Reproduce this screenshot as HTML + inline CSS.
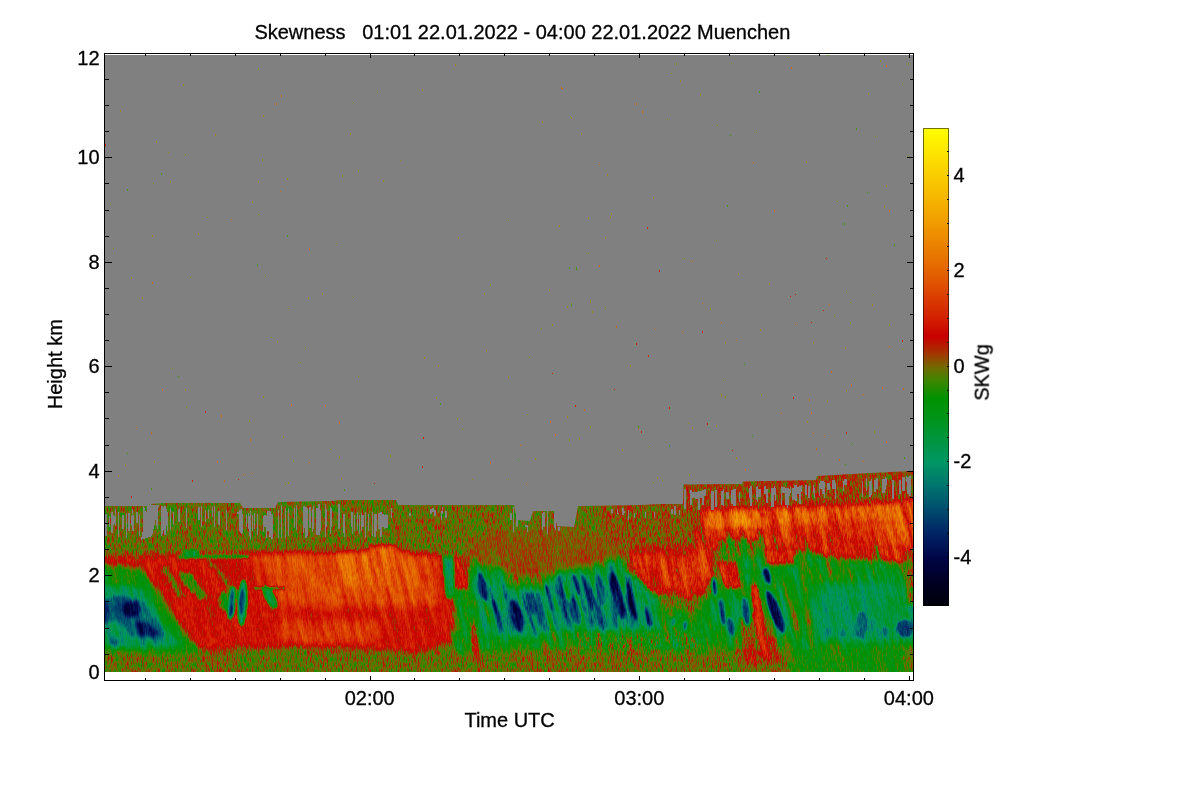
<!DOCTYPE html>
<html lang="en"><head><meta charset="utf-8"><title>Skewness 01:01 22.01.2022 - 04:00 22.01.2022 Muenchen</title>
<style>html,body{margin:0;padding:0;background:#fff}body{width:1200px;height:800px;overflow:hidden}svg{display:block}</style>
</head><body>
<svg width="1200" height="800" viewBox="0 0 1200 800">
<defs>
<linearGradient id="cb" x1="0" y1="0" x2="0" y2="1">
<stop offset="0.0000" stop-color="#ffff00"/>
<stop offset="0.1000" stop-color="#facd00"/>
<stop offset="0.2000" stop-color="#f09b00"/>
<stop offset="0.3000" stop-color="#e46400"/>
<stop offset="0.4000" stop-color="#d21e00"/>
<stop offset="0.4370" stop-color="#c80000"/>
<stop offset="0.4700" stop-color="#a53200"/>
<stop offset="0.5000" stop-color="#736900"/>
<stop offset="0.5300" stop-color="#3c8700"/>
<stop offset="0.5650" stop-color="#009100"/>
<stop offset="0.6000" stop-color="#009414"/>
<stop offset="0.7000" stop-color="#009664"/>
<stop offset="0.7500" stop-color="#00736e"/>
<stop offset="0.8000" stop-color="#004b6e"/>
<stop offset="0.8500" stop-color="#002364"/>
<stop offset="0.9000" stop-color="#000546"/>
<stop offset="0.9500" stop-color="#000023"/>
<stop offset="1.0000" stop-color="#00000a"/>
</linearGradient>
<clipPath id="dc"><rect x="105" y="55" width="808" height="617"/></clipPath>
</defs>
<rect width="1200" height="800" fill="#fff"/>
<rect x="105" y="55" width="808" height="617" fill="#808080"/>
<g clip-path="url(#dc)">
<defs>
<filter id="sb" color-interpolation-filters="sRGB" filterUnits="userSpaceOnUse" x="40" y="450" width="940" height="240"><feGaussianBlur stdDeviation="3"/></filter>
<filter id="mb" color-interpolation-filters="sRGB" filterUnits="userSpaceOnUse" x="40" y="450" width="940" height="240"><feGaussianBlur stdDeviation="1.8"/></filter>
<filter id="db" color-interpolation-filters="sRGB" filterUnits="userSpaceOnUse" x="40" y="450" width="940" height="240"><feGaussianBlur stdDeviation="1.0"/></filter>
<filter id="f1" color-interpolation-filters="sRGB" filterUnits="userSpaceOnUse" x="40" y="450" width="940" height="240">
<feColorMatrix in="SourceGraphic" type="matrix" values="0 0 1 0 0 0 0 1 0 0 0 0 1 0 0 0 0 0 0 1" result="si"/>
<feTurbulence type="fractalNoise" baseFrequency="0.16 0.022" numOctaves="2" seed="11" result="m"/>
<feColorMatrix in="m" type="matrix" values="1 0 0 0 0 1 0 0 0 0 1 0 0 0 0 0 0 0 0 1" result="mg"/>
<feComposite in="si" in2="mg" operator="arithmetic" k1="1" k2="-0.5" k3="0" k4="0.5" result="sn"/>
<feColorMatrix in="sn" type="matrix" values="1 0 0 0 0  0 0 0 0 0.5  0 0 0 0 0.5  0 0 0 0 1" result="sn2"/>
<feComposite in="SourceGraphic" in2="sn2" operator="arithmetic" k1="0" k2="1" k3="1" k4="-0.5"/>
</filter>
<filter id="f2" color-interpolation-filters="sRGB" filterUnits="userSpaceOnUse" x="40" y="450" width="940" height="240">
<feColorMatrix in="SourceGraphic" type="matrix" values="1 0 0 0 0 1 0 0 0 0 1 0 0 0 0 0 0 0 0 1" result="vi"/>
<feColorMatrix in="SourceGraphic" type="matrix" values="0 1 0 0 0 0 1 0 0 0 0 1 0 0 0 0 0 0 0 1" result="ai"/>
<feTurbulence type="fractalNoise" baseFrequency="0.8 0.16" numOctaves="2" seed="7" result="n"/>
<feColorMatrix in="n" type="matrix" values="1 0 0 0 0 1 0 0 0 0 1 0 0 0 0 0 0 0 0 1" result="ng"/>
<feComposite in="ai" in2="ng" operator="arithmetic" k1="1" k2="-0.5" k3="0" k4="0.5" result="an"/>
<feComposite in="vi" in2="an" operator="arithmetic" k1="0" k2="1" k3="0.6" k4="-0.3" result="vv"/>
<feComponentTransfer in="vv">
<feFuncR type="table" tableValues="0.000 0.000 0.000 0.000 0.000 0.000 0.000 0.000 0.000 0.000 0.000 0.000 0.000 0.000 0.000 0.000 0.000 0.000 0.000 0.000 0.000 0.000 0.000 0.000 0.000 0.000 0.000 0.000 0.000 0.000 0.000 0.000 0.000 0.000 0.000 0.016 0.102 0.184 0.271 0.361 0.451 0.533 0.616 0.678 0.729 0.780 0.796 0.812 0.824 0.831 0.839 0.851 0.859 0.867 0.878 0.886 0.894 0.902 0.906 0.910 0.918 0.925 0.929 0.933 0.941 0.945 0.949 0.957 0.961 0.965 0.973 0.976 0.980 0.984 0.984 0.988 0.988 0.992 0.996 0.996 1.000"/>
<feFuncG type="table" tableValues="0.000 0.000 0.000 0.000 0.000 0.004 0.008 0.016 0.020 0.047 0.078 0.110 0.137 0.176 0.216 0.255 0.294 0.333 0.373 0.412 0.451 0.486 0.518 0.553 0.588 0.588 0.588 0.584 0.584 0.584 0.580 0.580 0.580 0.576 0.573 0.565 0.553 0.537 0.510 0.463 0.412 0.322 0.231 0.153 0.078 0.004 0.039 0.078 0.118 0.153 0.188 0.220 0.255 0.290 0.322 0.357 0.392 0.420 0.447 0.475 0.502 0.525 0.553 0.580 0.608 0.631 0.659 0.682 0.706 0.729 0.753 0.780 0.804 0.827 0.855 0.878 0.902 0.925 0.949 0.976 1.000"/>
<feFuncB type="table" tableValues="0.039 0.063 0.086 0.114 0.137 0.173 0.204 0.239 0.275 0.306 0.333 0.361 0.392 0.400 0.412 0.424 0.431 0.431 0.431 0.431 0.431 0.424 0.412 0.400 0.392 0.353 0.314 0.275 0.235 0.196 0.157 0.118 0.078 0.051 0.024 0.000 0.000 0.000 0.000 0.000 0.000 0.000 0.000 0.000 0.000 0.000 0.000 0.000 0.000 0.000 0.000 0.000 0.000 0.000 0.000 0.000 0.000 0.000 0.000 0.000 0.000 0.000 0.000 0.000 0.000 0.000 0.000 0.000 0.000 0.000 0.000 0.000 0.000 0.000 0.000 0.000 0.000 0.000 0.000 0.000 0.000"/>
</feComponentTransfer><feGaussianBlur stdDeviation="0.45"/></filter>
<clipPath id="dp"><polygon points="105,506 148,506 150,504 166,503 240,503 243,508 275,508 278,502 330,501 340,500 396,500 398,505 514,505 517,520 530,521 533,511 554,511 557,526 574,527 578,506 640,505 660,504 683,504 683.5,484.5 742,484 743,481.5 816,480 817,476 870,473 913,471 913,672 105,672"/></clipPath>
</defs>
<g clip-path="url(#dp)">
<g filter="url(#f2)">
<g transform="translate(0 580) skewX(14) translate(0 -580)" filter="url(#f1)">
<g transform="translate(0 580) skewX(-14) translate(0 -580)">
<g filter="url(#sb)">
<polygon points="100,465 920,465 920,680 100,680" fill="rgb(125,92,15)"/>
<polygon points="600,500 705,500 705,552 600,552" fill="rgb(131,92,15)"/>
<polygon points="683,478 920,465 920,512 683,512" fill="rgb(133,92,15)"/>
<polygon points="790,640 920,640 920,680 790,680" fill="rgb(110,76,26)"/>
<polygon points="906,615 920,615 920,680 906,680" fill="rgb(128,92,26)"/>
<polygon points="100,557 245,553 262,552 400,552 445,556 455,600 455,640 420,652 300,646 180,650 100,650" fill="rgb(148,51,31)"/>
<polygon points="100,566 120,565 140,569 160,592 176,620 192,642 206,652 100,652" fill="rgb(107,51,38)"/>
<polygon points="240,554 400,552 438,556 440,600 436,606 300,608 272,603 252,582" fill="rgb(157,51,51)"/>
<polygon points="258,555 400,552 438,556 440,600 436,605 305,606 284,598 268,578" fill="rgb(166,51,51)"/>
<polygon points="284,556 400,553 425,560 420,590 330,592 290,585" fill="rgb(171,51,51)"/>
<polygon points="280,621 378,621 378,641 300,643 280,640" fill="rgb(162,51,51)"/>
<polygon points="455,589 482,589 482,652 455,652 452,640" fill="rgb(102,76,115)"/>
<polygon points="470,540 510,527 575,527 600,535 625,548 620,562 560,585 520,580 470,562" fill="rgb(130,46,15)"/>
<polygon points="469,560 520,576 560,583 600,562 640,552 650,580 666,610 705,612 705,650 580,648 456,650 456,594 469,594" fill="rgb(107,64,89)"/>
<polygon points="504,575 544,575 544,591 504,591" fill="rgb(110,64,76)"/>
<polygon points="473,564 495,570 505,588 545,588 553,574 600,566 640,558 655,600 661,628 600,630 560,630 530,637 490,637 474,620" fill="rgb(79,64,115)"/>
<polygon points="580,633 705,633 705,650 580,650" fill="rgb(110,153,76)"/>
<polygon points="625,552 705,548 705,594 690,597 660,592 640,580 625,572" fill="rgb(149,76,64)"/>
<polygon points="700,509 760,508 800,507 860,505 920,500 920,550 890,549 860,537 800,531 704,531" fill="rgb(159,76,64)"/>
<polygon points="690,531 800,530 860,537 905,550 920,556 920,562 880,560 840,558 800,550 740,549 700,549" fill="rgb(150,76,102)"/>
<polygon points="735,553 800,552 840,560 880,562 920,566 920,645 700,650 700,598 716,596" fill="rgb(106,56,89)"/>
<polygon points="818,584 882,582 920,590 920,642 818,642" fill="rgb(84,56,51)"/>
</g>
<g filter="url(#mb)">
<polygon points="100,586 133,586 145,592 158,613 169,631 180,645 150,647 125,648 100,645" fill="rgb(82,51,51)"/>
<polygon points="100,598 120,596 142,600 154,615 166,634 158,641 132,637 118,622 100,622" fill="rgb(56,51,51)"/>
<ellipse cx="131.5" cy="609" rx="8.5" ry="8" fill="rgb(28,51,51)"/>
<ellipse cx="146" cy="629" rx="12" ry="6" transform="rotate(22 146 629)" fill="rgb(28,51,51)"/>
<ellipse cx="106" cy="610" rx="5" ry="9" fill="rgb(43,51,51)"/>
<ellipse cx="116" cy="642" rx="7" ry="5" fill="rgb(59,51,51)"/>
<polygon points="332,556 367,552 372,546 396,546 402,556 402,584 332,584" fill="rgb(175,64,51)"/>
<polygon points="177,573 191,573 207,597 200,600 186,586" fill="rgb(116,76,51)"/>
<ellipse cx="224" cy="601" rx="6" ry="10" fill="rgb(110,76,51)"/>
<polygon points="206,560 211,560 242,597 236,599" fill="rgb(125,76,26)"/>
<polygon points="160,566 168,566 186,596 178,598" fill="rgb(122,76,26)"/>
<polygon points="443,557 453,557 454,598 446,598" fill="rgb(87,64,51)"/>
<polygon points="453.5,556 468.5,556 468.5,589 454,589" fill="rgb(148,64,51)"/>
<polygon points="470,617 476,617 480,656 473,656" fill="rgb(135,102,51)"/>
<polygon points="655,560 705,556 705,588 668,588" fill="rgb(158,76,64)"/>
<polygon points="635,557 660,557 660,598 648,590 635,570" fill="rgb(150,76,76)"/>
<polygon points="706,512 760,511 762,527 707,528" fill="rgb(184,89,89)"/>
<polygon points="762,510 860,507 920,502 920,518 860,520 762,525" fill="rgb(171,89,76)"/>
<polygon points="865,520 920,518 920,546 880,543" fill="rgb(164,76,76)"/>
<polygon points="718,539 760,539 762,556 722,557" fill="rgb(119,89,102)"/>
<polygon points="905,560 920,560 920,606 907,604" fill="rgb(135,102,76)"/>
<polygon points="695,547 712,547 718,578 706,580" fill="rgb(150,76,76)"/>
<polygon points="718,562 736,562 742,588 726,589" fill="rgb(150,76,76)"/>
<polygon points="763.5,549 795,549 795,564 765,565" fill="rgb(158,76,51)"/>
<polygon points="738,620 752,613 776,640 778,664 746,664" fill="rgb(131,89,51)"/>
<polygon points="749,585 757,585 770,640 772,658 761,658 755,620" fill="rgb(150,76,51)"/>
</g>
<g filter="url(#db)">
<polygon points="179,555.3 249,555.3 249,558 179,558" fill="rgb(102,102,26)"/>
<polygon points="184,550 198,550 198,557 184,557" fill="rgb(94,102,26)"/>
<ellipse cx="231.5" cy="603" rx="3.2" ry="16" transform="rotate(5 231.5 603)" fill="rgb(51,51,26)"/>
<ellipse cx="232" cy="611" rx="2" ry="6.5" transform="rotate(8 232 611)" fill="rgb(26,51,26)"/>
<ellipse cx="242.5" cy="603" rx="4.6" ry="23" transform="rotate(3 242.5 603)" fill="rgb(76,51,26)"/>
<ellipse cx="241.5" cy="602" rx="2.5" ry="13.5" transform="rotate(3 241.5 602)" fill="rgb(41,51,26)"/>
<ellipse cx="270" cy="597" rx="5" ry="12.5" transform="rotate(-30 270 597)" fill="rgb(92,51,26)"/>
<polygon points="254,587 285,587 285,589.5 254,589.5" fill="rgb(107,76,26)"/>
<ellipse cx="482.5" cy="587" rx="4.800000000000001" ry="15" transform="rotate(-14 482.5 587)" fill="rgb(28,51,102)"/>
<ellipse cx="497.5" cy="617" rx="3.3600000000000003" ry="17" transform="rotate(-14 497.5 617)" fill="rgb(43,51,102)"/>
<ellipse cx="516.5" cy="616" rx="5.2" ry="17" transform="rotate(-14 516.5 616)" fill="rgb(31,51,102)"/>
<ellipse cx="531" cy="603" rx="3.6" ry="12" transform="rotate(-14 531 603)" fill="rgb(48,51,102)"/>
<ellipse cx="549" cy="598" rx="3.2" ry="14" transform="rotate(-14 549 598)" fill="rgb(48,51,102)"/>
<ellipse cx="559" cy="587" rx="3.2" ry="11.5" transform="rotate(-14 559 587)" fill="rgb(48,51,102)"/>
<ellipse cx="575" cy="611" rx="4.800000000000001" ry="14.5" transform="rotate(-14 575 611)" fill="rgb(33,51,102)"/>
<ellipse cx="576.5" cy="584.5" rx="2.8000000000000003" ry="11" transform="rotate(-14 576.5 584.5)" fill="rgb(35,51,102)"/>
<ellipse cx="588" cy="592" rx="3.2" ry="18" transform="rotate(-14 588 592)" fill="rgb(40,51,102)"/>
<ellipse cx="601" cy="590" rx="4.4" ry="16" transform="rotate(-14 601 590)" fill="rgb(50,51,102)"/>
<ellipse cx="617.5" cy="596" rx="4.800000000000001" ry="24" transform="rotate(-14 617.5 596)" fill="rgb(31,51,102)"/>
<ellipse cx="631.5" cy="601" rx="3.6" ry="19" transform="rotate(-14 631.5 601)" fill="rgb(38,51,102)"/>
<ellipse cx="649" cy="616" rx="3.3600000000000003" ry="11" transform="rotate(-14 649 616)" fill="rgb(31,51,102)"/>
<ellipse cx="714.4" cy="587" rx="2.2" ry="9.5" transform="rotate(-4 714.4 587)" fill="rgb(26,51,38)"/>
<ellipse cx="722" cy="612" rx="3" ry="14" transform="rotate(-6 722 612)" fill="rgb(41,51,38)"/>
<ellipse cx="731" cy="627" rx="3.5" ry="10" transform="rotate(-12 731 627)" fill="rgb(43,51,38)"/>
<ellipse cx="685" cy="626" rx="2" ry="5" fill="rgb(46,51,38)"/>
<ellipse cx="673" cy="622" rx="2" ry="4.5" fill="rgb(51,51,38)"/>
<ellipse cx="746" cy="611" rx="3.6" ry="15" transform="rotate(-8 746 611)" fill="rgb(43,51,38)"/>
<ellipse cx="767" cy="576" rx="3.4" ry="8.5" transform="rotate(-16 767 576)" fill="rgb(26,51,38)"/>
<ellipse cx="775.5" cy="612" rx="5.2" ry="23" transform="rotate(-21 775.5 612)" fill="rgb(26,51,38)"/>
<ellipse cx="861" cy="625" rx="6" ry="14" fill="rgb(51,51,38)"/>
<ellipse cx="905" cy="628.5" rx="9" ry="9" fill="rgb(46,51,38)"/>
<ellipse cx="827.5" cy="632.5" rx="3" ry="5" fill="rgb(61,51,38)"/>
<ellipse cx="843" cy="633" rx="3" ry="4.5" fill="rgb(64,51,38)"/>
<ellipse cx="872" cy="625" rx="2" ry="7" fill="rgb(61,51,38)"/>
<ellipse cx="885" cy="632" rx="4" ry="5" fill="rgb(59,51,38)"/>
</g>
</g></g></g></g>
<g fill="#808080" shape-rendering="crispEdges">
<rect x="105" y="514" width="2" height="22"/>
<rect x="109" y="516" width="1" height="11"/>
<rect x="111" y="512" width="2" height="21"/>
<rect x="113" y="515" width="1" height="10"/>
<rect x="114" y="516" width="1" height="8"/>
<rect x="115" y="509" width="1" height="17"/>
<rect x="118" y="512" width="1" height="25"/>
<rect x="122" y="515" width="2" height="14"/>
<rect x="126" y="513" width="1" height="25"/>
<rect x="128" y="513" width="2" height="18"/>
<rect x="131" y="516" width="1" height="9"/>
<rect x="132" y="509" width="1" height="22"/>
<rect x="133" y="515" width="1" height="16"/>
<rect x="136" y="512" width="2" height="11"/>
<rect x="139" y="514" width="1" height="22"/>
<rect x="143" y="506" width="1" height="25"/>
<rect x="144" y="508" width="1" height="21"/>
<rect x="145" y="511" width="1" height="16"/>
<rect x="147" y="506" width="1" height="23"/>
<rect x="150" y="504" width="1" height="23"/>
<rect x="151" y="507" width="2" height="19"/>
<rect x="156" y="509" width="1" height="17"/>
<rect x="157" y="505" width="1" height="24"/>
<rect x="161" y="506" width="1" height="30"/>
<rect x="162" y="506" width="1" height="28"/>
<rect x="163" y="507" width="1" height="23"/>
<rect x="164" y="506" width="2" height="29"/>
<rect x="166" y="509" width="1" height="17"/>
<rect x="167" y="512" width="1" height="19"/>
<rect x="170" y="508" width="1" height="22"/>
<rect x="173" y="512" width="1" height="13"/>
<rect x="178" y="509" width="2" height="13"/>
<rect x="186" y="508" width="1" height="20"/>
<rect x="198" y="507" width="2" height="13"/>
<rect x="201" y="506" width="1" height="21"/>
<rect x="205" y="510" width="1" height="12"/>
<rect x="208" y="509" width="1" height="10"/>
<rect x="212" y="507" width="1" height="10"/>
<rect x="214" y="506" width="1" height="21"/>
<rect x="218" y="511" width="2" height="14"/>
<rect x="226" y="510" width="1" height="20"/>
<rect x="237" y="512" width="2" height="2"/>
<rect x="239" y="510" width="1" height="21"/>
<rect x="240" y="510" width="1" height="23"/>
<rect x="241" y="509" width="1" height="25"/>
<rect x="242" y="514" width="1" height="19"/>
<rect x="246" y="514" width="1" height="13"/>
<rect x="248" y="513" width="1" height="16"/>
<rect x="249" y="516" width="1" height="20"/>
<rect x="250" y="511" width="1" height="28"/>
<rect x="252" y="515" width="1" height="16"/>
<rect x="254" y="513" width="1" height="16"/>
<rect x="257" y="514" width="1" height="21"/>
<rect x="263" y="516" width="1" height="16"/>
<rect x="264" y="515" width="2" height="12"/>
<rect x="266" y="516" width="1" height="22"/>
<rect x="267" y="511" width="2" height="20"/>
<rect x="269" y="511" width="2" height="26"/>
<rect x="271" y="514" width="2" height="25"/>
<rect x="278" y="510" width="1" height="28"/>
<rect x="281" y="505" width="1" height="33"/>
<rect x="285" y="508" width="1" height="30"/>
<rect x="288" y="508" width="1" height="28"/>
<rect x="294" y="508" width="1" height="20"/>
<rect x="296" y="505" width="1" height="25"/>
<rect x="303" y="506" width="1" height="27"/>
<rect x="304" y="506" width="1" height="22"/>
<rect x="305" y="507" width="2" height="31"/>
<rect x="307" y="508" width="1" height="28"/>
<rect x="309" y="507" width="2" height="21"/>
<rect x="312" y="509" width="1" height="23"/>
<rect x="313" y="506" width="1" height="23"/>
<rect x="316" y="508" width="2" height="27"/>
<rect x="318" y="504" width="2" height="31"/>
<rect x="320" y="510" width="1" height="21"/>
<rect x="325" y="504" width="1" height="33"/>
<rect x="326" y="509" width="1" height="18"/>
<rect x="330" y="507" width="1" height="27"/>
<rect x="331" y="508" width="1" height="19"/>
<rect x="338" y="504" width="2" height="25"/>
<rect x="343" y="514" width="1" height="19"/>
<rect x="344" y="514" width="1" height="23"/>
<rect x="351" y="512" width="1" height="15"/>
<rect x="352" y="512" width="1" height="22"/>
<rect x="354" y="515" width="1" height="16"/>
<rect x="357" y="512" width="1" height="18"/>
<rect x="359" y="515" width="1" height="19"/>
<rect x="361" y="513" width="1" height="18"/>
<rect x="362" y="515" width="2" height="12"/>
<rect x="365" y="512" width="1" height="26"/>
<rect x="368" y="514" width="1" height="17"/>
<rect x="372" y="512" width="1" height="24"/>
<rect x="374" y="514" width="2" height="23"/>
<rect x="376" y="514" width="1" height="17"/>
<rect x="378" y="513" width="2" height="16"/>
<rect x="380" y="512" width="2" height="25"/>
<rect x="382" y="514" width="2" height="13"/>
<rect x="384" y="515" width="1" height="14"/>
<rect x="385" y="514" width="1" height="14"/>
<rect x="386" y="515" width="2" height="13"/>
<rect x="391" y="508" width="1" height="10"/>
<rect x="409" y="513" width="2" height="3"/>
<rect x="430" y="509" width="2" height="5"/>
<rect x="432" y="508" width="2" height="4"/>
<rect x="434" y="510" width="2" height="6"/>
<rect x="441" y="511" width="1" height="9"/>
<rect x="442" y="507" width="1" height="7"/>
<rect x="445" y="511" width="2" height="7"/>
<rect x="510" y="513" width="2" height="7"/>
<rect x="513" y="507" width="1" height="25"/>
<rect x="516" y="515" width="2" height="12"/>
<rect x="525" y="525" width="2" height="2"/>
<rect x="527" y="525" width="1" height="7"/>
<rect x="542" y="513" width="1" height="17"/>
<rect x="543" y="512" width="2" height="15"/>
<rect x="547" y="511" width="1" height="23"/>
<rect x="554" y="513" width="1" height="15"/>
<rect x="555" y="516" width="1" height="14"/>
<rect x="558" y="527" width="2" height="4"/>
<rect x="611" y="509" width="2" height="4"/>
<rect x="617" y="509" width="1" height="5"/>
<rect x="618" y="513" width="1" height="1"/>
<rect x="622" y="508" width="2" height="7"/>
<rect x="624" y="511" width="1" height="2"/>
<rect x="628" y="510" width="1" height="10"/>
<rect x="634" y="513" width="1" height="5"/>
<rect x="636" y="513" width="1" height="1"/>
<rect x="645" y="512" width="1" height="6"/>
<rect x="654" y="512" width="1" height="6"/>
<rect x="671" y="509" width="2" height="5"/>
<rect x="674" y="506" width="2" height="9"/>
<rect x="679" y="510" width="1" height="5"/>
<rect x="684" y="489" width="2" height="20"/>
<rect x="690" y="490" width="2" height="15"/>
<rect x="692" y="492" width="3" height="6"/>
<rect x="695" y="492" width="3" height="7"/>
<rect x="698" y="491" width="2" height="19"/>
<rect x="700" y="491" width="2" height="7"/>
<rect x="702" y="490" width="2" height="15"/>
<rect x="704" y="489" width="2" height="7"/>
<rect x="711" y="491" width="3" height="19"/>
<rect x="715" y="490" width="2" height="17"/>
<rect x="721" y="491" width="2" height="14"/>
<rect x="723" y="489" width="1" height="17"/>
<rect x="726" y="492" width="3" height="7"/>
<rect x="731" y="490" width="2" height="14"/>
<rect x="733" y="489" width="3" height="17"/>
<rect x="739" y="492" width="1" height="10"/>
<rect x="749" y="488" width="1" height="10"/>
<rect x="750" y="486" width="2" height="20"/>
<rect x="756" y="487" width="1" height="13"/>
<rect x="757" y="486" width="1" height="16"/>
<rect x="758" y="489" width="2" height="8"/>
<rect x="760" y="489" width="1" height="8"/>
<rect x="764" y="486" width="2" height="8"/>
<rect x="766" y="489" width="2" height="14"/>
<rect x="771" y="488" width="3" height="19"/>
<rect x="774" y="486" width="1" height="9"/>
<rect x="775" y="488" width="1" height="13"/>
<rect x="781" y="486" width="1" height="19"/>
<rect x="782" y="487" width="3" height="6"/>
<rect x="785" y="488" width="2" height="17"/>
<rect x="787" y="488" width="1" height="20"/>
<rect x="788" y="488" width="1" height="17"/>
<rect x="789" y="489" width="1" height="7"/>
<rect x="790" y="487" width="1" height="6"/>
<rect x="792" y="488" width="2" height="12"/>
<rect x="794" y="485" width="1" height="15"/>
<rect x="795" y="485" width="2" height="16"/>
<rect x="797" y="487" width="2" height="7"/>
<rect x="799" y="486" width="2" height="18"/>
<rect x="801" y="485" width="1" height="7"/>
<rect x="805" y="485" width="2" height="10"/>
<rect x="808" y="486" width="2" height="12"/>
<rect x="813" y="485" width="1" height="8"/>
<rect x="814" y="488" width="1" height="10"/>
<rect x="819" y="483" width="1" height="13"/>
<rect x="820" y="481" width="2" height="8"/>
<rect x="822" y="481" width="2" height="13"/>
<rect x="824" y="482" width="1" height="16"/>
<rect x="827" y="483" width="3" height="7"/>
<rect x="832" y="480" width="3" height="9"/>
<rect x="835" y="483" width="1" height="16"/>
<rect x="843" y="481" width="1" height="10"/>
<rect x="844" y="479" width="3" height="6"/>
<rect x="862" y="481" width="1" height="16"/>
<rect x="866" y="478" width="1" height="13"/>
<rect x="869" y="481" width="2" height="16"/>
<rect x="871" y="479" width="1" height="16"/>
<rect x="874" y="480" width="2" height="12"/>
<rect x="876" y="478" width="2" height="11"/>
<rect x="882" y="479" width="3" height="14"/>
<rect x="885" y="477" width="1" height="13"/>
<rect x="886" y="478" width="1" height="7"/>
<rect x="892" y="480" width="2" height="19"/>
<rect x="899" y="480" width="2" height="14"/>
<rect x="902" y="477" width="3" height="14"/>
<rect x="906" y="476" width="1" height="6"/>
<rect x="907" y="477" width="2" height="17"/>
<rect x="909" y="476" width="2" height="20"/>
<polygon points="148,505 159,505 152,536 141,540"/>
</g>
<g shape-rendering="crispEdges">
<rect x="258" y="68" width="1" height="2" fill="#8f8a00"/>
<rect x="183" y="84" width="1" height="2" fill="#8f8a00"/>
<rect x="281" y="95" width="1" height="2" fill="#c46a00"/>
<rect x="276" y="103" width="1" height="2" fill="#c46a00"/>
<rect x="120" y="110" width="1" height="2" fill="#8f8a00"/>
<rect x="263" y="115" width="1" height="2" fill="#8f8a00"/>
<rect x="353" y="102" width="1" height="1" fill="#8f8a00"/>
<rect x="377" y="92" width="1" height="1" fill="#8f8a00"/>
<rect x="422" y="89" width="1" height="2" fill="#8f8a00"/>
<rect x="455" y="64" width="1" height="2" fill="#8f8a00"/>
<rect x="561" y="87" width="1" height="2" fill="#c46a00"/>
<rect x="542" y="121" width="1" height="2" fill="#8f8a00"/>
<rect x="570" y="116" width="1" height="1" fill="#8f8a00"/>
<rect x="581" y="133" width="1" height="1" fill="#8f8a00"/>
<rect x="215" y="134" width="1" height="2" fill="#8f8a00"/>
<rect x="156" y="141" width="1" height="2" fill="#8f8a00"/>
<rect x="168" y="152" width="1" height="1" fill="#8f8a00"/>
<rect x="185" y="154" width="1" height="1" fill="#8f8a00"/>
<rect x="105" y="144" width="1" height="2" fill="#c82800"/>
<rect x="350" y="133" width="1" height="2" fill="#8f8a00"/>
<rect x="262" y="159" width="1" height="2" fill="#8f8a00"/>
<rect x="400" y="160" width="1" height="1" fill="#8f8a00"/>
<rect x="161" y="173" width="1" height="2" fill="#4c9600"/>
<rect x="358" y="170" width="1" height="2" fill="#8f8a00"/>
<rect x="342" y="175" width="1" height="2" fill="#8f8a00"/>
<rect x="383" y="180" width="1" height="2" fill="#8f8a00"/>
<rect x="287" y="178" width="1" height="2" fill="#8f8a00"/>
<rect x="258" y="181" width="1" height="2" fill="#8f8a00"/>
<rect x="170" y="181" width="1" height="2" fill="#8f8a00"/>
<rect x="153" y="183" width="1" height="1" fill="#8f8a00"/>
<rect x="127" y="189" width="1" height="2" fill="#4c9600"/>
<rect x="280" y="191" width="1" height="1" fill="#c46a00"/>
<rect x="252" y="201" width="1" height="2" fill="#8f8a00"/>
<rect x="110" y="204" width="1" height="1" fill="#8f8a00"/>
<rect x="258" y="214" width="1" height="1" fill="#8f8a00"/>
<rect x="207" y="217" width="1" height="1" fill="#8f8a00"/>
<rect x="231" y="219" width="1" height="1" fill="#c46a00"/>
<rect x="508" y="220" width="1" height="1" fill="#8f8a00"/>
<rect x="559" y="225" width="1" height="2" fill="#8f8a00"/>
<rect x="588" y="217" width="1" height="1" fill="#8f8a00"/>
<rect x="287" y="235" width="1" height="2" fill="#4c9600"/>
<rect x="152" y="235" width="1" height="2" fill="#8f8a00"/>
<rect x="198" y="233" width="1" height="2" fill="#8f8a00"/>
<rect x="458" y="237" width="1" height="2" fill="#8f8a00"/>
<rect x="336" y="243" width="1" height="1" fill="#8f8a00"/>
<rect x="309" y="248" width="1" height="2" fill="#c46a00"/>
<rect x="113" y="248" width="1" height="1" fill="#8f8a00"/>
<rect x="257" y="264" width="1" height="2" fill="#4c9600"/>
<rect x="569" y="267" width="1" height="2" fill="#4c9600"/>
<rect x="576" y="267" width="1" height="2" fill="#4c9600"/>
<rect x="265" y="276" width="1" height="1" fill="#8f8a00"/>
<rect x="131" y="277" width="1" height="2" fill="#8f8a00"/>
<rect x="190" y="277" width="1" height="1" fill="#8f8a00"/>
<rect x="152" y="282" width="1" height="2" fill="#c46a00"/>
<rect x="490" y="284" width="1" height="2" fill="#8f8a00"/>
<rect x="549" y="289" width="1" height="2" fill="#8f8a00"/>
<rect x="484" y="293" width="1" height="2" fill="#8f8a00"/>
<rect x="322" y="293" width="1" height="2" fill="#8f8a00"/>
<rect x="353" y="297" width="1" height="1" fill="#8f8a00"/>
<rect x="142" y="297" width="1" height="2" fill="#8f8a00"/>
<rect x="308" y="297" width="1" height="2" fill="#8f8a00"/>
<rect x="590" y="300" width="1" height="2" fill="#8f8a00"/>
<rect x="571" y="303" width="1" height="1" fill="#8f8a00"/>
<rect x="567" y="306" width="1" height="2" fill="#8f8a00"/>
<rect x="592" y="311" width="1" height="2" fill="#8f8a00"/>
<rect x="288" y="308" width="1" height="1" fill="#8f8a00"/>
<rect x="541" y="328" width="1" height="1" fill="#8f8a00"/>
<rect x="552" y="324" width="1" height="2" fill="#8f8a00"/>
<rect x="271" y="337" width="1" height="1" fill="#8f8a00"/>
<rect x="277" y="341" width="1" height="2" fill="#8f8a00"/>
<rect x="305" y="347" width="1" height="1" fill="#8f8a00"/>
<rect x="486" y="350" width="1" height="2" fill="#8f8a00"/>
<rect x="424" y="357" width="1" height="2" fill="#8f8a00"/>
<rect x="529" y="357" width="1" height="1" fill="#8f8a00"/>
<rect x="300" y="362" width="1" height="1" fill="#8f8a00"/>
<rect x="438" y="365" width="1" height="2" fill="#8f8a00"/>
<rect x="172" y="368" width="1" height="1" fill="#8f8a00"/>
<rect x="552" y="373" width="1" height="1" fill="#c82800"/>
<rect x="178" y="376" width="1" height="1" fill="#4c9600"/>
<rect x="358" y="376" width="1" height="1" fill="#8f8a00"/>
<rect x="508" y="376" width="1" height="2" fill="#8f8a00"/>
<rect x="162" y="389" width="1" height="2" fill="#c46a00"/>
<rect x="185" y="389" width="1" height="2" fill="#8f8a00"/>
<rect x="263" y="396" width="1" height="2" fill="#8f8a00"/>
<rect x="436" y="397" width="1" height="2" fill="#8f8a00"/>
<rect x="562" y="88" width="1" height="1" fill="#c46a00"/>
<rect x="571" y="117" width="1" height="2" fill="#8f8a00"/>
<rect x="581" y="133" width="1" height="2" fill="#8f8a00"/>
<rect x="599" y="164" width="1" height="1" fill="#c46a00"/>
<rect x="607" y="174" width="1" height="2" fill="#8f8a00"/>
<rect x="636" y="103" width="1" height="2" fill="#c46a00"/>
<rect x="642" y="111" width="1" height="2" fill="#c46a00"/>
<rect x="671" y="73" width="1" height="1" fill="#8f8a00"/>
<rect x="676" y="63" width="1" height="2" fill="#8f8a00"/>
<rect x="680" y="80" width="1" height="2" fill="#8f8a00"/>
<rect x="667" y="119" width="1" height="1" fill="#8f8a00"/>
<rect x="700" y="94" width="1" height="2" fill="#8f8a00"/>
<rect x="717" y="125" width="1" height="1" fill="#8f8a00"/>
<rect x="731" y="63" width="1" height="1" fill="#8f8a00"/>
<rect x="730" y="135" width="1" height="1" fill="#4c9600"/>
<rect x="759" y="91" width="1" height="2" fill="#4c9600"/>
<rect x="756" y="132" width="1" height="1" fill="#8f8a00"/>
<rect x="753" y="162" width="1" height="1" fill="#c46a00"/>
<rect x="787" y="57" width="1" height="1" fill="#8f8a00"/>
<rect x="791" y="67" width="1" height="2" fill="#c46a00"/>
<rect x="806" y="161" width="1" height="2" fill="#8f8a00"/>
<rect x="827" y="55" width="1" height="1" fill="#4c9600"/>
<rect x="856" y="128" width="1" height="2" fill="#4c9600"/>
<rect x="868" y="93" width="1" height="2" fill="#8f8a00"/>
<rect x="875" y="136" width="1" height="1" fill="#8f8a00"/>
<rect x="880" y="60" width="1" height="2" fill="#8f8a00"/>
<rect x="886" y="65" width="1" height="2" fill="#c46a00"/>
<rect x="902" y="83" width="1" height="1" fill="#8f8a00"/>
<rect x="908" y="63" width="1" height="2" fill="#8f8a00"/>
<rect x="907" y="156" width="1" height="1" fill="#8f8a00"/>
<rect x="653" y="197" width="1" height="2" fill="#8f8a00"/>
<rect x="611" y="213" width="1" height="2" fill="#8f8a00"/>
<rect x="610" y="216" width="1" height="2" fill="#8f8a00"/>
<rect x="588" y="218" width="1" height="1" fill="#8f8a00"/>
<rect x="647" y="227" width="1" height="2" fill="#c82800"/>
<rect x="605" y="237" width="1" height="2" fill="#8f8a00"/>
<rect x="588" y="253" width="1" height="1" fill="#8f8a00"/>
<rect x="569" y="268" width="1" height="1" fill="#4c9600"/>
<rect x="576" y="268" width="1" height="2" fill="#4c9600"/>
<rect x="599" y="265" width="1" height="2" fill="#c46a00"/>
<rect x="659" y="270" width="1" height="2" fill="#c82800"/>
<rect x="684" y="258" width="1" height="1" fill="#8f8a00"/>
<rect x="692" y="261" width="1" height="1" fill="#c46a00"/>
<rect x="716" y="240" width="1" height="1" fill="#8f8a00"/>
<rect x="727" y="205" width="1" height="2" fill="#4c9600"/>
<rect x="738" y="273" width="1" height="2" fill="#8f8a00"/>
<rect x="769" y="283" width="1" height="2" fill="#8f8a00"/>
<rect x="774" y="210" width="1" height="2" fill="#c46a00"/>
<rect x="790" y="296" width="1" height="1" fill="#c82800"/>
<rect x="795" y="294" width="1" height="1" fill="#c82800"/>
<rect x="826" y="258" width="1" height="1" fill="#c82800"/>
<rect x="837" y="201" width="1" height="1" fill="#8f8a00"/>
<rect x="847" y="205" width="1" height="2" fill="#4c9600"/>
<rect x="844" y="223" width="1" height="2" fill="#4c9600"/>
<rect x="867" y="192" width="1" height="1" fill="#4c9600"/>
<rect x="886" y="185" width="1" height="2" fill="#8f8a00"/>
<rect x="884" y="206" width="1" height="2" fill="#8f8a00"/>
<rect x="889" y="210" width="1" height="2" fill="#c46a00"/>
<rect x="894" y="244" width="1" height="2" fill="#4c9600"/>
<rect x="873" y="294" width="1" height="1" fill="#8f8a00"/>
<rect x="846" y="292" width="1" height="1" fill="#8f8a00"/>
<rect x="850" y="302" width="1" height="1" fill="#8f8a00"/>
<rect x="829" y="304" width="1" height="1" fill="#c46a00"/>
<rect x="590" y="301" width="1" height="2" fill="#8f8a00"/>
<rect x="571" y="304" width="1" height="2" fill="#4c9600"/>
<rect x="721" y="394" width="1" height="2" fill="#8f8a00"/>
<rect x="707" y="423" width="1" height="2" fill="#c82800"/>
<rect x="293" y="460" width="1" height="2" fill="#8f8a00"/>
<rect x="339" y="456" width="1" height="2" fill="#8f8a00"/>
<rect x="863" y="461" width="1" height="1" fill="#c46a00"/>
<rect x="809" y="399" width="1" height="2" fill="#c46a00"/>
<rect x="186" y="407" width="1" height="1" fill="#8f8a00"/>
<rect x="630" y="365" width="1" height="2" fill="#8f8a00"/>
<rect x="827" y="400" width="1" height="2" fill="#8f8a00"/>
<rect x="716" y="425" width="1" height="2" fill="#8f8a00"/>
<rect x="285" y="484" width="1" height="1" fill="#8f8a00"/>
<rect x="339" y="422" width="1" height="2" fill="#c46a00"/>
<rect x="736" y="457" width="1" height="2" fill="#8f8a00"/>
<rect x="872" y="304" width="1" height="2" fill="#8f8a00"/>
<rect x="527" y="414" width="1" height="1" fill="#8f8a00"/>
<rect x="649" y="446" width="1" height="1" fill="#8f8a00"/>
<rect x="813" y="433" width="1" height="1" fill="#c46a00"/>
<rect x="710" y="308" width="1" height="2" fill="#8f8a00"/>
<rect x="472" y="479" width="1" height="1" fill="#8f8a00"/>
<rect x="127" y="453" width="1" height="1" fill="#4c9600"/>
<rect x="854" y="379" width="1" height="1" fill="#8f8a00"/>
<rect x="569" y="439" width="1" height="2" fill="#8f8a00"/>
<rect x="151" y="488" width="1" height="2" fill="#4c9600"/>
<rect x="807" y="421" width="1" height="2" fill="#8f8a00"/>
<rect x="136" y="427" width="1" height="1" fill="#c46a00"/>
<rect x="745" y="469" width="1" height="2" fill="#c46a00"/>
<rect x="702" y="303" width="1" height="1" fill="#c46a00"/>
<rect x="760" y="329" width="1" height="2" fill="#8f8a00"/>
<rect x="851" y="384" width="1" height="2" fill="#c46a00"/>
<rect x="816" y="448" width="1" height="2" fill="#c46a00"/>
<rect x="579" y="438" width="1" height="2" fill="#8f8a00"/>
<rect x="874" y="431" width="1" height="2" fill="#8f8a00"/>
<rect x="721" y="322" width="1" height="1" fill="#c46a00"/>
<rect x="341" y="478" width="1" height="2" fill="#8f8a00"/>
<rect x="904" y="457" width="1" height="2" fill="#4c9600"/>
<rect x="252" y="473" width="1" height="1" fill="#c46a00"/>
<rect x="636" y="343" width="1" height="2" fill="#c82800"/>
<rect x="781" y="413" width="1" height="1" fill="#c46a00"/>
<rect x="440" y="403" width="1" height="2" fill="#4c9600"/>
<rect x="309" y="462" width="1" height="1" fill="#c46a00"/>
<rect x="330" y="449" width="1" height="1" fill="#8f8a00"/>
<rect x="614" y="389" width="1" height="1" fill="#c82800"/>
<rect x="834" y="316" width="1" height="1" fill="#8f8a00"/>
<rect x="221" y="415" width="1" height="2" fill="#c46a00"/>
<rect x="325" y="405" width="1" height="2" fill="#c46a00"/>
<rect x="638" y="426" width="1" height="2" fill="#4c9600"/>
<rect x="839" y="459" width="1" height="2" fill="#c46a00"/>
<rect x="390" y="455" width="1" height="2" fill="#8f8a00"/>
<rect x="831" y="371" width="1" height="2" fill="#c46a00"/>
<rect x="422" y="466" width="1" height="2" fill="#c82800"/>
<rect x="125" y="464" width="1" height="2" fill="#8f8a00"/>
<rect x="131" y="496" width="1" height="2" fill="#c82800"/>
<rect x="154" y="461" width="1" height="2" fill="#8f8a00"/>
<rect x="217" y="461" width="1" height="2" fill="#c46a00"/>
<rect x="761" y="394" width="1" height="2" fill="#8f8a00"/>
<rect x="288" y="482" width="1" height="2" fill="#8f8a00"/>
<rect x="653" y="482" width="1" height="1" fill="#8f8a00"/>
<rect x="903" y="388" width="1" height="2" fill="#c46a00"/>
<rect x="638" y="428" width="1" height="1" fill="#c46a00"/>
<rect x="508" y="479" width="1" height="1" fill="#8f8a00"/>
<rect x="526" y="484" width="1" height="1" fill="#c46a00"/>
<rect x="567" y="416" width="1" height="2" fill="#8f8a00"/>
<rect x="669" y="445" width="1" height="2" fill="#4c9600"/>
<rect x="457" y="418" width="1" height="2" fill="#8f8a00"/>
<rect x="845" y="464" width="1" height="1" fill="#4c9600"/>
<rect x="423" y="437" width="1" height="2" fill="#c82800"/>
<rect x="374" y="483" width="1" height="1" fill="#c82800"/>
<rect x="462" y="429" width="1" height="1" fill="#8f8a00"/>
<rect x="669" y="407" width="1" height="2" fill="#c82800"/>
<rect x="605" y="307" width="1" height="1" fill="#8f8a00"/>
<rect x="283" y="436" width="1" height="2" fill="#8f8a00"/>
<rect x="249" y="420" width="1" height="2" fill="#8f8a00"/>
<rect x="846" y="432" width="1" height="2" fill="#c82800"/>
<rect x="811" y="412" width="1" height="2" fill="#c46a00"/>
<rect x="811" y="322" width="1" height="1" fill="#c82800"/>
<rect x="555" y="434" width="1" height="2" fill="#c46a00"/>
<rect x="852" y="443" width="1" height="1" fill="#4c9600"/>
<rect x="641" y="431" width="1" height="2" fill="#c82800"/>
<rect x="793" y="397" width="1" height="2" fill="#c82800"/>
<rect x="250" y="439" width="1" height="2" fill="#c46a00"/>
<rect x="692" y="427" width="1" height="2" fill="#8f8a00"/>
<rect x="654" y="329" width="1" height="1" fill="#c46a00"/>
<rect x="725" y="396" width="1" height="2" fill="#8f8a00"/>
<rect x="151" y="432" width="1" height="2" fill="#c46a00"/>
<rect x="682" y="331" width="1" height="1" fill="#c46a00"/>
<rect x="813" y="342" width="1" height="2" fill="#8f8a00"/>
<rect x="575" y="405" width="1" height="2" fill="#c82800"/>
<rect x="590" y="426" width="1" height="2" fill="#8f8a00"/>
<rect x="550" y="421" width="1" height="2" fill="#c46a00"/>
<rect x="535" y="458" width="1" height="2" fill="#8f8a00"/>
<rect x="238" y="479" width="1" height="1" fill="#c82800"/>
<rect x="118" y="475" width="1" height="2" fill="#8f8a00"/>
<rect x="846" y="390" width="1" height="2" fill="#8f8a00"/>
<rect x="616" y="326" width="1" height="2" fill="#c46a00"/>
<rect x="702" y="331" width="1" height="2" fill="#c82800"/>
<rect x="744" y="364" width="1" height="1" fill="#4c9600"/>
<rect x="824" y="435" width="1" height="1" fill="#c46a00"/>
<rect x="490" y="462" width="1" height="2" fill="#c46a00"/>
<rect x="736" y="340" width="1" height="1" fill="#c46a00"/>
<rect x="752" y="436" width="1" height="1" fill="#4c9600"/>
<rect x="648" y="355" width="1" height="2" fill="#c82800"/>
<rect x="732" y="450" width="1" height="1" fill="#c82800"/>
<rect x="344" y="489" width="1" height="2" fill="#4c9600"/>
<rect x="723" y="380" width="1" height="1" fill="#8f8a00"/>
<rect x="902" y="349" width="1" height="1" fill="#8f8a00"/>
<rect x="850" y="322" width="1" height="2" fill="#8f8a00"/>
<rect x="205" y="411" width="1" height="2" fill="#c82800"/>
<rect x="662" y="480" width="1" height="1" fill="#8f8a00"/>
<rect x="518" y="460" width="1" height="1" fill="#4c9600"/>
<rect x="689" y="474" width="1" height="2" fill="#8f8a00"/>
<rect x="224" y="480" width="1" height="2" fill="#c46a00"/>
<rect x="882" y="387" width="1" height="2" fill="#c46a00"/>
<rect x="886" y="441" width="1" height="2" fill="#c46a00"/>
<rect x="688" y="423" width="1" height="1" fill="#8f8a00"/>
<rect x="795" y="324" width="1" height="1" fill="#c46a00"/>
<rect x="243" y="474" width="1" height="1" fill="#c46a00"/>
<rect x="889" y="324" width="1" height="2" fill="#8f8a00"/>
<rect x="584" y="409" width="1" height="2" fill="#c46a00"/>
<rect x="721" y="395" width="1" height="2" fill="#8f8a00"/>
<rect x="823" y="310" width="1" height="1" fill="#c82800"/>
<rect x="291" y="404" width="1" height="2" fill="#c46a00"/>
<rect x="863" y="394" width="1" height="1" fill="#c46a00"/>
<rect x="725" y="342" width="1" height="2" fill="#8f8a00"/>
<rect x="192" y="480" width="1" height="2" fill="#c82800"/>
<rect x="520" y="445" width="1" height="1" fill="#c46a00"/>
<rect x="622" y="449" width="1" height="2" fill="#8f8a00"/>
<rect x="902" y="340" width="1" height="2" fill="#c82800"/>
<rect x="657" y="477" width="1" height="2" fill="#8f8a00"/>
<rect x="889" y="346" width="1" height="1" fill="#c46a00"/>
<rect x="845" y="347" width="1" height="2" fill="#8f8a00"/>
</g>
</g>
<g stroke="#000" stroke-width="1.3" fill="none" shape-rendering="crispEdges">
<rect x="104.5" y="53.5" width="809.0" height="627.0" stroke-width="1.6"/>
<path d="M145.5 680.5v-2.7M145.5 53.5v2.7"/>
<path d="M190.5 680.5v-2.7M190.5 53.5v2.7"/>
<path d="M235.5 680.5v-2.7M235.5 53.5v2.7"/>
<path d="M280.5 680.5v-2.7M280.5 53.5v2.7"/>
<path d="M325.5 680.5v-2.7M325.5 53.5v2.7"/>
<path d="M370.5 680.5v-4.7M370.5 53.5v4.7"/>
<path d="M414.5 680.5v-2.7M414.5 53.5v2.7"/>
<path d="M459.5 680.5v-2.7M459.5 53.5v2.7"/>
<path d="M504.5 680.5v-2.7M504.5 53.5v2.7"/>
<path d="M549.5 680.5v-2.7M549.5 53.5v2.7"/>
<path d="M594.5 680.5v-2.7M594.5 53.5v2.7"/>
<path d="M639.5 680.5v-4.7M639.5 53.5v4.7"/>
<path d="M684.5 680.5v-2.7M684.5 53.5v2.7"/>
<path d="M729.5 680.5v-2.7M729.5 53.5v2.7"/>
<path d="M774.5 680.5v-2.7M774.5 53.5v2.7"/>
<path d="M819.5 680.5v-2.7M819.5 53.5v2.7"/>
<path d="M864.5 680.5v-2.7M864.5 53.5v2.7"/>
<path d="M909.5 680.5v-4.7M909.5 53.5v4.7"/>
<path d="M104.5 680.5h7M913.5 680.5h-7"/>
<path d="M104.5 654.5h4M913.5 654.5h-4"/>
<path d="M104.5 628.5h4M913.5 628.5h-4"/>
<path d="M104.5 601.5h4M913.5 601.5h-4"/>
<path d="M104.5 575.5h7M913.5 575.5h-7"/>
<path d="M104.5 549.5h4M913.5 549.5h-4"/>
<path d="M104.5 523.5h4M913.5 523.5h-4"/>
<path d="M104.5 497.5h4M913.5 497.5h-4"/>
<path d="M104.5 471.5h7M913.5 471.5h-7"/>
<path d="M104.5 445.5h4M913.5 445.5h-4"/>
<path d="M104.5 418.5h4M913.5 418.5h-4"/>
<path d="M104.5 392.5h4M913.5 392.5h-4"/>
<path d="M104.5 366.5h7M913.5 366.5h-7"/>
<path d="M104.5 340.5h4M913.5 340.5h-4"/>
<path d="M104.5 314.5h4M913.5 314.5h-4"/>
<path d="M104.5 288.5h4M913.5 288.5h-4"/>
<path d="M104.5 262.5h7M913.5 262.5h-7"/>
<path d="M104.5 236.5h4M913.5 236.5h-4"/>
<path d="M104.5 210.5h4M913.5 210.5h-4"/>
<path d="M104.5 183.5h4M913.5 183.5h-4"/>
<path d="M104.5 157.5h7M913.5 157.5h-7"/>
<path d="M104.5 131.5h4M913.5 131.5h-4"/>
<path d="M104.5 105.5h4M913.5 105.5h-4"/>
<path d="M104.5 79.5h4M913.5 79.5h-4"/>
<path d="M104.5 53.5h7M913.5 53.5h-7"/>
</g>
<rect x="923" y="128" width="26" height="478" fill="url(#cb)"/>
<rect x="923.5" y="128.5" width="25" height="477" fill="none" stroke="#000" stroke-opacity="0.55" stroke-width="1"/>
<g stroke="#000" stroke-width="1" shape-rendering="crispEdges">
<path d="M949 581.5h-2.5"/>
<path d="M949 557.5h-2.5"/>
<path d="M949 533.5h-2.5"/>
<path d="M949 509.5h-2.5"/>
<path d="M949 485.5h-2.5"/>
<path d="M949 461.5h-2.5"/>
<path d="M949 437.5h-2.5"/>
<path d="M949 413.5h-2.5"/>
<path d="M949 390.5h-2.5"/>
<path d="M949 366.5h-2.5"/>
<path d="M949 342.5h-2.5"/>
<path d="M949 318.5h-2.5"/>
<path d="M949 294.5h-2.5"/>
<path d="M949 270.5h-2.5"/>
<path d="M949 246.5h-2.5"/>
<path d="M949 223.5h-2.5"/>
<path d="M949 199.5h-2.5"/>
<path d="M949 175.5h-2.5"/>
<path d="M949 151.5h-2.5"/>
</g>
<g font-family="'Liberation Sans', Arial, Helvetica, sans-serif" fill="#000" stroke="#000" stroke-width="0.3">
<text x="522.4" y="39.3" font-size="20" text-anchor="middle" xml:space="preserve">Skewness   01:01 22.01.2022 - 04:00 22.01.2022 Muenchen</text>
<text x="99.6" y="679.3" font-size="20" text-anchor="end">0</text>
<text x="99.6" y="582.0" font-size="20" text-anchor="end">2</text>
<text x="99.6" y="477.6" font-size="20" text-anchor="end">4</text>
<text x="99.6" y="373.1" font-size="20" text-anchor="end">6</text>
<text x="99.6" y="268.6" font-size="20" text-anchor="end">8</text>
<text x="99.6" y="164.1" font-size="20" text-anchor="end">10</text>
<text x="99.6" y="65.0" font-size="20" text-anchor="end">12</text>
<text x="369.7" y="705" font-size="20" text-anchor="middle">02:00</text>
<text x="639.3" y="705" font-size="20" text-anchor="middle">03:00</text>
<text x="908.9" y="705" font-size="20" text-anchor="middle">04:00</text>
<text x="509.6" y="727" font-size="20" text-anchor="middle">Time UTC</text>
<text transform="translate(62,364.2) rotate(-90)" font-size="20" text-anchor="middle">Height km</text>
<text x="953.5" y="181.7" font-size="20">4</text>
<text x="953.5" y="277.1" font-size="20">2</text>
<text x="953.5" y="372.6" font-size="20">0</text>
<text x="953.5" y="468.1" font-size="20">-2</text>
<text x="953.5" y="563.6" font-size="20">-4</text>
<text transform="translate(988.7,372.5) rotate(-90)" font-size="20" text-anchor="middle">SKWg</text>
</g>
</svg>
</body></html>
